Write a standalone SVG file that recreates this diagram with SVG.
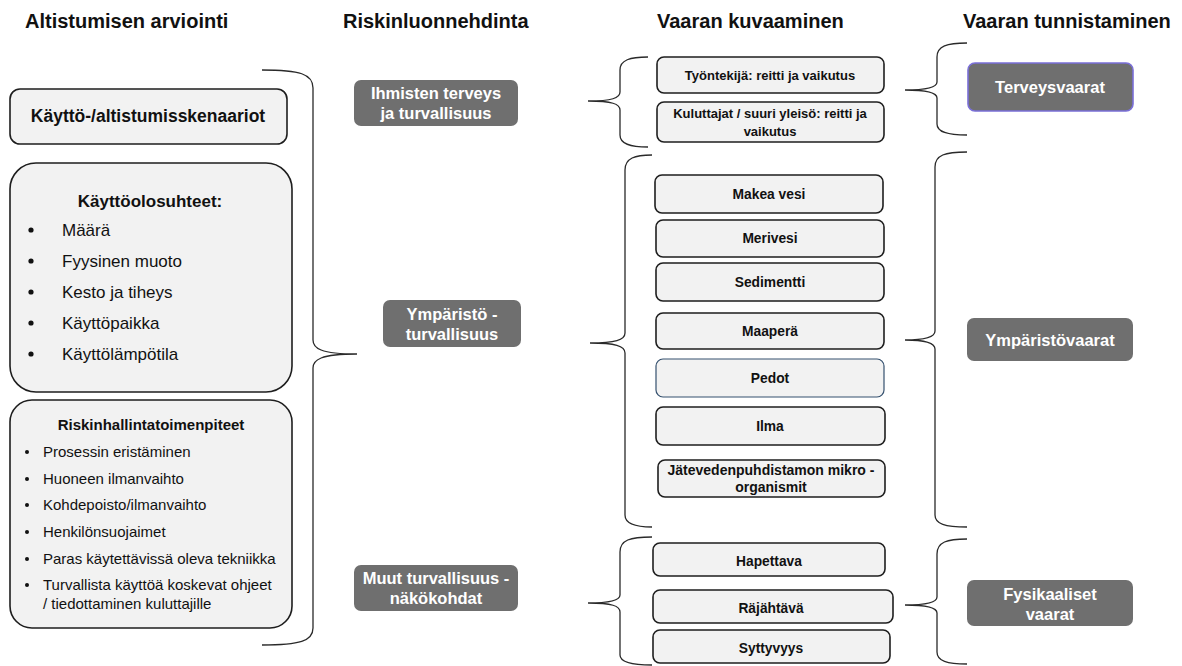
<svg xmlns="http://www.w3.org/2000/svg" width="1182" height="666" viewBox="0 0 1182 666">
<style>
.hdr{font-family:"Liberation Sans",Arial,sans-serif;font-weight:bold;font-size:20px;fill:#111}
.lbox{fill:#f2f2f2;stroke:#1e1e1e;stroke-width:1.6}
.wbox{fill:#f2f2f2;stroke:#1e1e1e;stroke-width:1.6}
.gbox{fill:#6f6f6f;stroke:none}
.bt{font-family:"Liberation Sans",Arial,sans-serif;font-weight:bold;fill:#111;text-anchor:middle}
.rt{font-family:"Liberation Sans",Arial,sans-serif;fill:#111}
.wt{font-family:"Liberation Sans",Arial,sans-serif;font-weight:bold;fill:#fff;text-anchor:middle;font-size:16.5px}
.br{fill:none;stroke:#2a2a2a;stroke-width:1.3}
</style>
<rect width="1182" height="666" fill="#ffffff"/>
<g id="headers">
<text class="hdr" x="25" y="28">Altistumisen arviointi</text>
<text class="hdr" x="343" y="28">Riskinluonnehdinta</text>
<text class="hdr" x="657" y="28">Vaaran kuvaaminen</text>
<text class="hdr" x="963" y="28">Vaaran tunnistaminen</text>
</g>
<g id="n-skenaariot">
<rect class="lbox" x="10" y="89" width="277" height="55" rx="10"/>
<text class="bt" x="148" y="122" font-size="17.5">Käyttö-/altistumisskenaariot</text>
</g>
<g id="n-kayttoolosuhteet">
<rect class="lbox" x="10" y="163" width="282" height="229" rx="26"/>
<text class="bt" x="150" y="207" font-size="17">Käyttöolosuhteet:</text>
<g class="rt" font-size="17">
<circle cx="31" cy="230" r="2.6" fill="#111"/><text x="62" y="236">Määrä</text>
<circle cx="31" cy="261" r="2.6" fill="#111"/><text x="62" y="267">Fyysinen muoto</text>
<circle cx="31" cy="292" r="2.6" fill="#111"/><text x="62" y="298">Kesto ja tiheys</text>
<circle cx="31" cy="323" r="2.6" fill="#111"/><text x="62" y="329">Käyttöpaikka</text>
<circle cx="31" cy="354" r="2.6" fill="#111"/><text x="62" y="360">Käyttölämpötila</text>
</g>
</g>
<g id="n-riskinhallinta">
<rect class="lbox" x="10" y="400" width="282" height="228" rx="22"/>
<text class="bt" x="151" y="430" font-size="15">Riskinhallintatoimenpiteet</text>
<g class="rt" font-size="15">
<circle cx="27" cy="452" r="2" fill="#111"/><text x="43" y="457">Prosessin eristäminen</text>
<circle cx="27" cy="479" r="2" fill="#111"/><text x="43" y="484">Huoneen ilmanvaihto</text>
<circle cx="27" cy="505" r="2" fill="#111"/><text x="43" y="510">Kohdepoisto/ilmanvaihto</text>
<circle cx="27" cy="532" r="2" fill="#111"/><text x="43" y="537">Henkilönsuojaimet</text>
<circle cx="27" cy="559" r="2" fill="#111"/><text x="43" y="564">Paras käytettävissä oleva tekniikka</text>
<circle cx="27" cy="585" r="2" fill="#111"/><text x="43" y="590">Turvallista käyttöä koskevat ohjeet</text>
<text x="43" y="609">/ tiedottaminen kuluttajille</text>
</g>
</g>
<g id="n-ihmisten">
<rect class="gbox" x="354" y="80" width="164" height="46" rx="7"/>
<text class="wt" x="436" y="99">Ihmisten terveys</text>
<text class="wt" x="436" y="119">ja turvallisuus</text>
</g>
<g id="n-ymparisto">
<rect class="gbox" x="383" y="300" width="138" height="47" rx="7"/>
<text class="wt" x="452" y="320">Ympäristö -</text>
<text class="wt" x="452" y="340">turvallisuus</text>
</g>
<g id="n-muut">
<rect class="gbox" x="354" y="565" width="164" height="46" rx="7"/>
<text class="wt" x="436" y="584">Muut turvallisuus -</text>
<text class="wt" x="436" y="604">näkökohdat</text>
</g>
<g id="n-tyontekija">
<rect class="wbox" x="657" y="57" width="227" height="36" rx="7"/>
<text class="bt" x="770" y="80" font-size="13">Työntekijä: reitti ja vaikutus</text>
</g>
<g id="n-kuluttajat">
<rect class="wbox" x="657" y="102" width="227" height="40" rx="7"/>
<text class="bt" x="770" y="118" font-size="13">Kuluttajat / suuri yleisö: reitti ja</text>
<text class="bt" x="770" y="136" font-size="13">vaikutus</text>
</g>
<g id="n-makea"><rect class="wbox" x="655" y="175" width="228" height="38" rx="7"/><text class="bt" x="769" y="199" font-size="13.8">Makea vesi</text></g>
<g id="n-merivesi"><rect class="wbox" x="656" y="220" width="228" height="37" rx="7"/><text class="bt" x="770" y="243" font-size="13.8">Merivesi</text></g>
<g id="n-sedimentti"><rect class="wbox" x="656" y="263" width="228" height="38" rx="7"/><text class="bt" x="770" y="287" font-size="13.8">Sedimentti</text></g>
<g id="n-maapera"><rect class="wbox" x="656" y="313" width="228" height="36" rx="7"/><text class="bt" x="770" y="336" font-size="13.8">Maaperä</text></g>
<g id="n-pedot"><rect x="656" y="359" width="228" height="38" rx="7" fill="#f2f2f2" stroke="#34506e" stroke-width="1.2"/><text class="bt" x="770" y="383" font-size="13.8">Pedot</text></g>
<g id="n-ilma"><rect class="wbox" x="656" y="407" width="229" height="38" rx="7"/><text class="bt" x="770" y="431" font-size="13.8">Ilma</text></g>
<g id="n-jatevesi"><rect class="wbox" x="658" y="460" width="227" height="37" rx="7"/><text class="bt" x="771" y="475" font-size="14">Jätevedenpuhdistamon mikro -</text><text class="bt" x="771" y="492" font-size="14">organismit</text></g>
<g id="n-hapettava"><rect class="wbox" x="653" y="543" width="232" height="33" rx="7"/><text class="bt" x="769" y="566" font-size="13.8">Hapettava</text></g>
<g id="n-rajahtava"><rect class="wbox" x="653" y="590" width="240" height="33" rx="7"/><text class="bt" x="771" y="613" font-size="13.8">Räjähtävä</text></g>
<g id="n-syttyvyys"><rect class="wbox" x="653" y="630" width="237" height="33" rx="7"/><text class="bt" x="771" y="653" font-size="13.8">Syttyvyys</text></g>
<g id="n-terveysvaarat">
<rect x="968" y="63" width="165" height="48" rx="7" fill="#6f6f6f" stroke="#7a6fd8" stroke-width="1.6"/>
<text class="wt" x="1050" y="93" font-size="18">Terveysvaarat</text>
</g>
<g id="n-ymparistovaarat">
<rect class="gbox" x="967" y="318" width="166" height="43" rx="7"/>
<text class="wt" x="1050" y="346" font-size="18">Ympäristövaarat</text>
</g>
<g id="n-fysikaaliset">
<rect class="gbox" x="967" y="580" width="166" height="46" rx="7"/>
<text class="wt" x="1050" y="600" font-size="18">Fysikaaliset</text>
<text class="wt" x="1050" y="620" font-size="18">vaarat</text>
</g>
<g id="connectors">
<path class="br" d="M262 70 C300 70 313 74 313 88 L313 340 C313 348 320 354 357 354 C320 354 313 360 313 368 L313 628 C313 641 300 645 262 645"/>
<path class="br" d="M648 57 C630 57 620 60 620 70 L620 92 C620 98 612 101 588 101 C612 101 620 104 620 110 L620 135 C620 144 630 147 648 147"/>
<path class="br" d="M652 155 C635 155 625 158 625 170 L625 333 C625 340 615 343 590 343 C615 343 625 346 625 353 L625 515 C625 524 635 527 652 527"/>
<path class="br" d="M652 537 C630 537 620 540 620 552 L620 595 C620 600 612 603 588 603 C612 603 620 606 620 612 L620 655 C620 662 630 665 652 665"/>
<path class="br" d="M967 43 C947 43 937 46 937 57 L937 82 C937 87 928 90 905 90 C928 90 937 93 937 98 L937 124 C937 132 947 135 967 135"/>
<path class="br" d="M967 152 C945 152 935 155 935 167 L935 331 C935 337 926 340 905 340 C926 340 935 343 935 349 L935 515 C935 524 945 527 967 527"/>
<path class="br" d="M967 539 C947 539 937 542 937 554 L937 597 C937 602 928 605 905 605 C928 605 937 608 937 613 L937 652 C937 661 947 664 967 664"/>
</g>
</svg>
